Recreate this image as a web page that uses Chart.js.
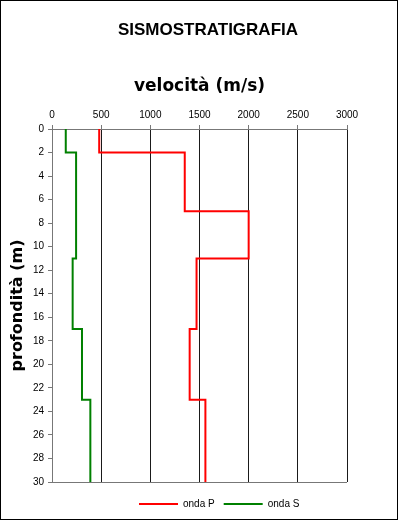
<!DOCTYPE html>
<html lang="it">
<head>
  <meta charset="UTF-8" />
  <title>Sismostratigrafia</title>
  <script src="https://cdn.jsdelivr.net/npm/chart.js"></script>
  <style>
    body { margin: 0; padding: 0; background: #fff; }
    #wrap { width: 398px; height: 520px; }
  </style>
</head>
<body>
  <div id="wrap"><canvas id="chart" width="398" height="520"></canvas></div>

  <script>
    // profondità (m) dei cambi di strato, e velocità dello strato sottostante
    const profonditaP = [0, 2, 7, 11, 17, 23, 30];
    const velocitaP   = [480, 1350, 2000, 1470, 1400, 1560, 1560];
    const profonditaS = [0, 2, 11, 17, 23, 30];
    const velocitaS   = [140, 245, 210, 305, 390, 390];

    const seriesNames = ['onda P', 'onda S'];
    const seriesColors = ['#ff0000', '#008000'];

    const toPoints = (vel, prof) => vel.map((v, i) => ({ x: v, y: prof[i] }));

    // titolo, cornice e legenda
    const decor = {
      id: 'decor',
      afterDraw(chart) {
        const c = chart.ctx;
        c.save();
        c.strokeStyle = '#000';
        c.lineWidth = 1;
        c.strokeRect(0.5, 0.5, chart.width - 1, chart.height - 1);

        c.fillStyle = '#000';
        c.font = 'bold 17px "Liberation Sans", Arial, sans-serif';
        c.textAlign = 'center';
        c.textBaseline = 'middle';
        c.fillText('SISMOSTRATIGRAFIA', 208, 30);

        // legenda in basso
        c.font = '10px "Liberation Sans", Arial, sans-serif';
        c.textAlign = 'left';
        let x = 139;
        const y = 504;
        chart.data.datasets.forEach(ds => {
          c.strokeStyle = ds.borderColor;
          c.lineWidth = 2;
          c.beginPath();
          c.moveTo(x, y);
          c.lineTo(x + 39, y);
          c.stroke();
          x += 44;
          c.fillStyle = '#000';
          c.fillText(ds.label, x, y);
          x += c.measureText(ds.label).width + 9;
        });
        c.restore();
      }
    };

    const ctx = document.getElementById('chart').getContext('2d');
    new Chart(ctx, {
      type: 'line',
      data: {
        datasets: [
          {
            label: seriesNames[0],
            data: toPoints(velocitaP, profonditaP),
            borderColor: seriesColors[0],
            backgroundColor: seriesColors[0],
            borderWidth: 2,
            pointRadius: 0,
            stepped: 'after',
            fill: false
          },
          {
            label: seriesNames[1],
            data: toPoints(velocitaS, profonditaS),
            borderColor: seriesColors[1],
            backgroundColor: seriesColors[1],
            borderWidth: 2,
            pointRadius: 0,
            stepped: 'after',
            fill: false
          }
        ]
      },
      options: {
        responsive: false,
        animation: false,
        layout: { padding: { left: 0, top: 0, right: 51, bottom: 38 } },
        plugins: {
          legend: { display: false },
          title: { display: false },
          tooltip: { enabled: false }
        },
        scales: {
          x: {
            type: 'linear',
            position: 'top',
            min: 0,
            max: 3000,
            ticks: {
              stepSize: 500,
              padding: 4,
              color: '#000',
              font: { family: '"Liberation Sans", Arial, sans-serif', size: 10 },
              callback: v => String(v)
            },
            grid: { color: '#1a1a1a', tickColor: '#777', tickLength: 4 },
            border: { color: '#777', width: 1 },
            title: {
              display: true,
              text: 'velocità (m/s)',
              color: '#000',
              font: { family: '"DejaVu Sans", Verdana, sans-serif', size: 17, weight: 'bold' },
              padding: { top: 76, bottom: 0 }
            },
            afterFit(scale) { scale.height = 129; }
          },
          y: {
            type: 'linear',
            reverse: true,
            min: 0,
            max: 30,
            ticks: {
              stepSize: 2,
              padding: 4,
              color: '#000',
              font: { family: '"Liberation Sans", Arial, sans-serif', size: 10 }
            },
            grid: {
              color: c => (c.tick && c.tick.value === 30 ? '#777' : 'rgba(0,0,0,0)'),
              tickColor: '#777',
              tickLength: 4
            },
            border: { color: '#777', width: 1 },
            title: {
              display: true,
              text: 'profondità (m)',
              color: '#000',
              font: { family: '"DejaVu Sans", Verdana, sans-serif', size: 16, weight: 'bold' },
              padding: { top: 8, bottom: 0 }
            },
            afterFit(scale) { scale.width = 52; }
          }
        }
      },
      plugins: [decor]
    });
  </script>
</body>
</html>
